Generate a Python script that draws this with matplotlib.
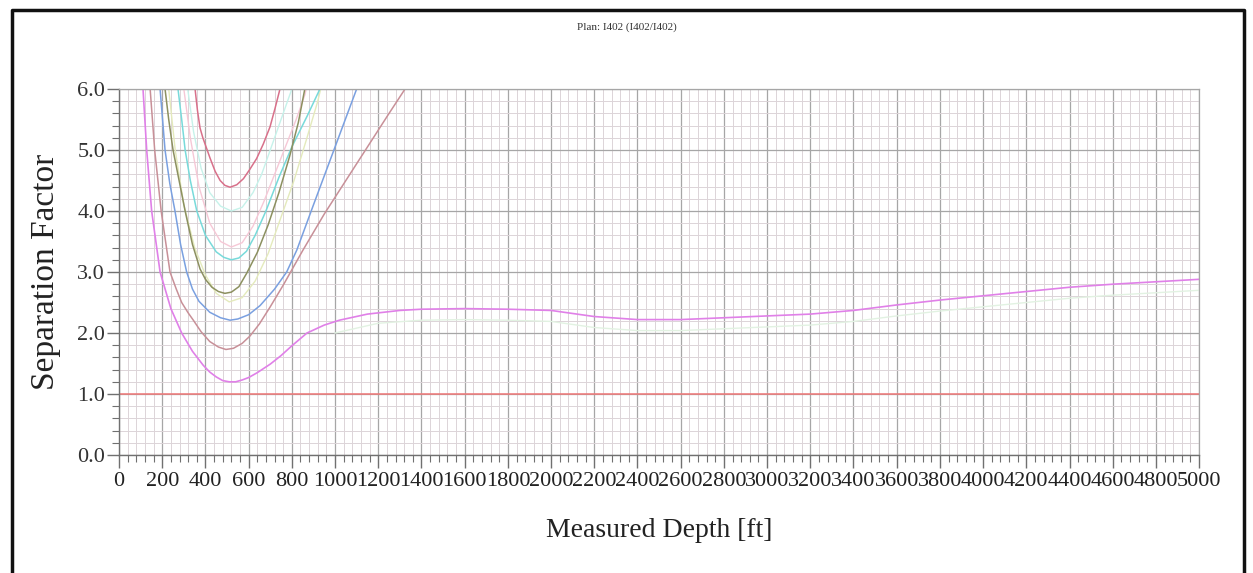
import matplotlib
matplotlib.use("Agg")
import matplotlib.pyplot as plt
from matplotlib.lines import Line2D
from matplotlib.ticker import MultipleLocator, FormatStrFormatter

plt.rcParams['font.family'] = ['Liberation Serif', 'DejaVu Serif']

# ----------------------
# Separation factor vs. measured depth, one series per offset well
# ----------------------
red_md = [340, 352, 363, 375, 388, 400, 421, 445, 468, 490, 514, 545, 576, 605, 637, 668, 699, 722, 745, 755]
red_sf = [6.3, 6.0, 5.65, 5.36, 5.2, 5.08, 4.87, 4.65, 4.5, 4.42, 4.39, 4.43, 4.53, 4.68, 4.86, 5.1, 5.38, 5.68, 6.0, 6.2]

aqua_md = [300, 318, 345, 380, 420, 470, 520, 570, 620, 660, 700, 740, 780, 820, 840]
aqua_sf = [6.4, 6.0, 5.3, 4.7, 4.3, 4.08, 4.0, 4.06, 4.3, 4.6, 5.0, 5.4, 5.8, 6.2, 6.4]

pink_md = [285, 300, 330, 370, 420, 470, 520, 570, 620, 670, 720, 770, 820, 860, 880]
pink_sf = [6.4, 6.0, 5.2, 4.4, 3.8, 3.5, 3.41, 3.48, 3.75, 4.15, 4.6, 5.05, 5.5, 5.9, 6.2]

cyan_md = [255, 273, 290, 306, 330, 360, 400, 450, 485, 520, 555, 590, 630, 680, 740, 800, 870, 930, 945]
cyan_sf = [6.4, 6.0, 5.5, 5.0, 4.5, 4.0, 3.6, 3.33, 3.24, 3.2, 3.23, 3.34, 3.6, 4.0, 4.55, 5.05, 5.55, 6.0, 6.2]

olive_md = [200, 213, 230, 250, 278, 306, 340, 375, 400, 430, 460, 490, 520, 555, 591, 640, 690, 740, 790, 830,
            860, 875]
olive_sf = [6.5, 6.0, 5.5, 5.0, 4.5, 4.0, 3.45, 3.05, 2.88, 2.75, 2.68, 2.65, 2.67, 2.76, 2.98, 3.32, 3.77, 4.3,
            4.9, 5.45, 6.0, 6.3]

lime_md = [215, 230, 260, 300, 350, 400, 450, 510, 570, 630, 690, 750, 810, 870, 920, 940]
lime_sf = [6.4, 6.0, 5.0, 4.1, 3.4, 2.95, 2.65, 2.51, 2.58, 2.85, 3.3, 3.9, 4.5, 5.2, 5.8, 6.1]

blue_md = [180, 190, 213, 235, 259, 285, 313, 340, 370, 420, 470, 514, 550, 600, 653, 720, 776, 823, 900, 1000,
           1100, 1120]
blue_sf = [6.5, 6.0, 5.0, 4.45, 4.0, 3.45, 3.0, 2.72, 2.52, 2.34, 2.25, 2.21, 2.23, 2.3, 2.45, 2.72, 3.0, 3.36,
           4.1, 5.05, 6.0, 6.2]

mauve_md = [130, 144, 165, 195, 236, 265, 290, 320, 344, 380, 420, 460, 495, 530, 570, 606, 650, 700, 761, 850,
            950, 1050, 1150, 1250, 1324, 1340]
mauve_sf = [6.5, 6.0, 5.0, 4.0, 3.0, 2.72, 2.5, 2.33, 2.21, 2.02, 1.86, 1.77, 1.73, 1.75, 1.83, 1.95, 2.15,
            2.43, 2.79, 3.35, 3.95, 4.5, 5.05, 5.6, 6.0, 6.1]

magenta_md = [100, 111, 128, 151, 190, 240, 290, 340, 390, 420, 450, 480, 510, 540, 570, 600, 640, 700, 750,
              800, 870, 950, 1020, 1150, 1300, 1400, 1600, 1800, 2000, 2200, 2400, 2600, 2800, 3000, 3200,
              3400, 3600, 3800, 4000, 4200, 4400, 4600, 4800, 5000]
magenta_sf = [6.6, 6.0, 5.0, 4.0, 3.0, 2.4, 2.0, 1.7, 1.47, 1.36, 1.28, 1.22, 1.2, 1.2, 1.23, 1.27, 1.35, 1.49,
              1.63, 1.79, 2.0, 2.13, 2.21, 2.31, 2.37, 2.39, 2.4, 2.39, 2.37, 2.27, 2.22, 2.22, 2.25, 2.28,
              2.31, 2.37, 2.46, 2.54, 2.61, 2.68, 2.75, 2.8, 2.84, 2.88]

mint_md = [1000, 1200, 1400, 1600, 1800, 2000, 2200, 2400, 2600, 2800, 3000, 3200, 3400, 3600, 3800,
           4000, 4200, 4400, 4600, 4800, 5000]
mint_sf = [2.0, 2.16, 2.21, 2.22, 2.21, 2.19, 2.09, 2.04, 2.04, 2.07, 2.1, 2.13, 2.19, 2.28, 2.36,
           2.43, 2.5, 2.57, 2.62, 2.66, 2.7]

limit_md = [0, 5000]
limit_sf = [1.0, 1.0]

x_ticks = list(range(0, 5001, 200))
y_ticks = [0, 1, 2, 3, 4, 5, 6]

# ----------------------
# Figure
# ----------------------
fig = plt.figure(figsize=(12.53, 5.73), dpi=100)
ax = fig.add_axes([0.095, 0.2059, 0.862, 0.6388])

ax.set_xlim(0, 5000)
ax.set_ylim(0, 6)

ax.xaxis.set_major_locator(MultipleLocator(200))
ax.xaxis.set_minor_locator(MultipleLocator(40))
ax.yaxis.set_major_locator(MultipleLocator(1))
ax.yaxis.set_minor_locator(MultipleLocator(0.2))
ax.yaxis.set_major_formatter(FormatStrFormatter('%.1f'))

ax.grid(which='minor', color='#dcd4d8', linewidth=0.7)
ax.grid(which='major', color='#a6a6a6', linewidth=0.9)
ax.set_axisbelow(True)

# faint series first, bold ones on top
ax.plot(aqua_md, aqua_sf, color='#c6f2ea', lw=1.0)
ax.plot(pink_md, pink_sf, color='#f6c8d6', lw=1.0)
ax.plot(lime_md, lime_sf, color='#e4eabc', lw=1.0)
ax.plot(mint_md, mint_sf, color='#e2f2e2', lw=1.0)
ax.plot(red_md, red_sf, color='#d8708a', lw=1.1)
ax.plot(cyan_md, cyan_sf, color='#78dada', lw=1.1)
ax.plot(olive_md, olive_sf, color='#8c9060', lw=1.1)
ax.plot(blue_md, blue_sf, color='#7aa0e0', lw=1.1)
ax.plot(mauve_md, mauve_sf, color='#c89098', lw=1.1)
ax.plot(magenta_md, magenta_sf, color='#e080e8', lw=1.2)
ax.plot(limit_md, limit_sf, color='#f07878', lw=1.1)

for side in ['top', 'right']:
    ax.spines[side].set_color('#a6a6a6')
    ax.spines[side].set_linewidth(0.9)
for side in ['left', 'bottom']:
    ax.spines[side].set_color('#707070')
    ax.spines[side].set_linewidth(1.0)

ax.tick_params(which='major', direction='out', length=9, width=1.0, color='#707070')
ax.tick_params(which='minor', direction='out', length=5, width=0.8, color='#707070')
ax.tick_params(axis='x', labelsize=16, labelcolor='#222222', pad=3)
ax.tick_params(axis='y', labelsize=16, labelcolor='#333333', pad=1)
ax.set_xticks(x_ticks)
ax.set_xticklabels([str(v) for v in x_ticks])
ax.set_yticks(y_ticks)

ax.set_xlabel('Measured Depth [ft]', fontsize=20, labelpad=20, color='#222222')
ax.set_ylabel('Separation Factor', fontsize=24, labelpad=12, color='#222222')

fig.text(0.5, 0.953, 'Plan: I402 (I402/I402)', ha='center', va='center', fontsize=8, color='#333333')

# page frame around the plot
x0, x1, ytop = 12 / 1253, 1244 / 1253, 1 - 10 / 573
fig.add_artist(Line2D([x0, x0, x1, x1], [0, ytop, ytop, 0], transform=fig.transFigure,
                      color='#111111', lw=2.5))

fig.savefig('out.png', dpi=100)
